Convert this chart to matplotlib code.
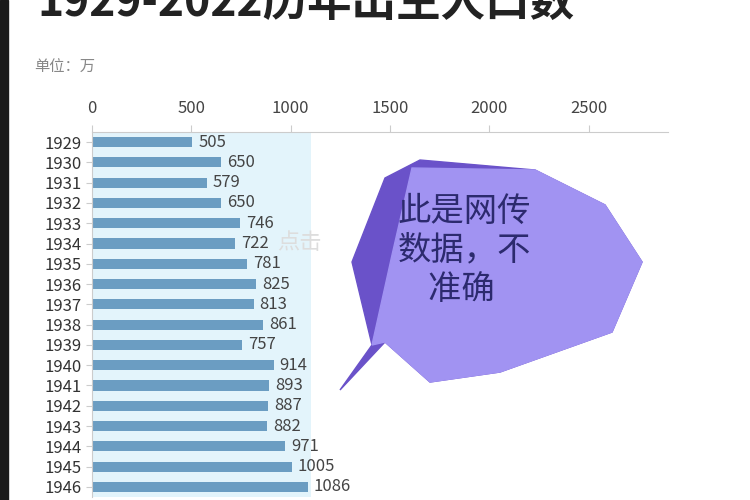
import matplotlib
matplotlib.use("Agg")
import matplotlib.pyplot as plt
from matplotlib.patches import Polygon, Rectangle

plt.rcParams["font.family"] = ["Noto Sans CJK SC", "DejaVu Sans"]

years = [str(y) for y in range(1929, 1947)]
values = [505, 650, 579, 650, 746, 722, 781, 825, 813, 861, 757, 914, 893, 887, 882, 971, 1005, 1086]
xticks = [0, 500, 1000, 1500, 2000, 2500]

fig = plt.figure(figsize=(7.5, 5), dpi=100)
fig.patch.set_facecolor("white")
ax = fig.add_axes([0.1227, 0.006, 0.768, 0.73])
y = list(range(len(years)))
ax.barh(y, [1100] * len(years), height=1.0, color="#e3f4fb", zorder=1)
ax.barh(y, values, height=0.5, color="#6b9dc2", zorder=2)
for yi, v in zip(y, values):
    ax.text(v + 30, yi, str(v), va="center", ha="left", fontsize=12, color="#444444", zorder=3)
ax.set_xlim(0, 2900)
ax.set_ylim(len(years) - 0.5, -0.5)
ax.set_yticks(y)
ax.set_yticklabels(years, fontsize=12, color="#333333")
ax.set_xticks(xticks)
ax.set_xticklabels([str(t) for t in xticks], fontsize=12, color="#444444")
ax.xaxis.tick_top()
ax.tick_params(axis="x", length=5, color="#cccccc", pad=6)
ax.tick_params(axis="y", length=4, color="#cccccc")
for s in ["right", "bottom"]:
    ax.spines[s].set_visible(False)
ax.spines["top"].set_color("#cccccc")
ax.spines["left"].set_color("#cccccc")

fig.text(0.05, 0.995, "1929-2022历年出生人口数", fontsize=32, fontweight="bold", color="#222222", va="center", ha="left")
fig.text(0.045, 0.865, "单位：万", fontsize=11, color="#888888", va="center")
fig.text(0.37, 0.515, "点击", fontsize=16, color="#dddddd", va="center")
fig.add_artist(Rectangle((0, 0), 0.01, 1, transform=fig.transFigure, color="#1a1a1a"))

def P(pts):
    return [(px / 750, 1 - py / 500) for px, py in pts]

outer = P([(340, 390), (372, 345), (352, 262), (385, 178), (420, 160), (535, 170), (605, 205), (642, 262), (612, 332), (500, 372), (430, 382), (385, 342)])
inner = P([(372, 345), (392, 255), (412, 168), (535, 170), (605, 205), (642, 262), (612, 332), (500, 372), (430, 382), (385, 342)])
fig.add_artist(Polygon(outer, closed=True, transform=fig.transFigure, color="#6a52c9", zorder=5))
fig.add_artist(Polygon(inner, closed=True, transform=fig.transFigure, color="#a193f2", zorder=6))
fig.text(0.53, 0.5, "此是网传\n数据，不\n    准确", fontsize=24, color="#2c2a6e", ha="left", va="center", zorder=7, linespacing=1.15)

fig.savefig("out.png", dpi=100)
